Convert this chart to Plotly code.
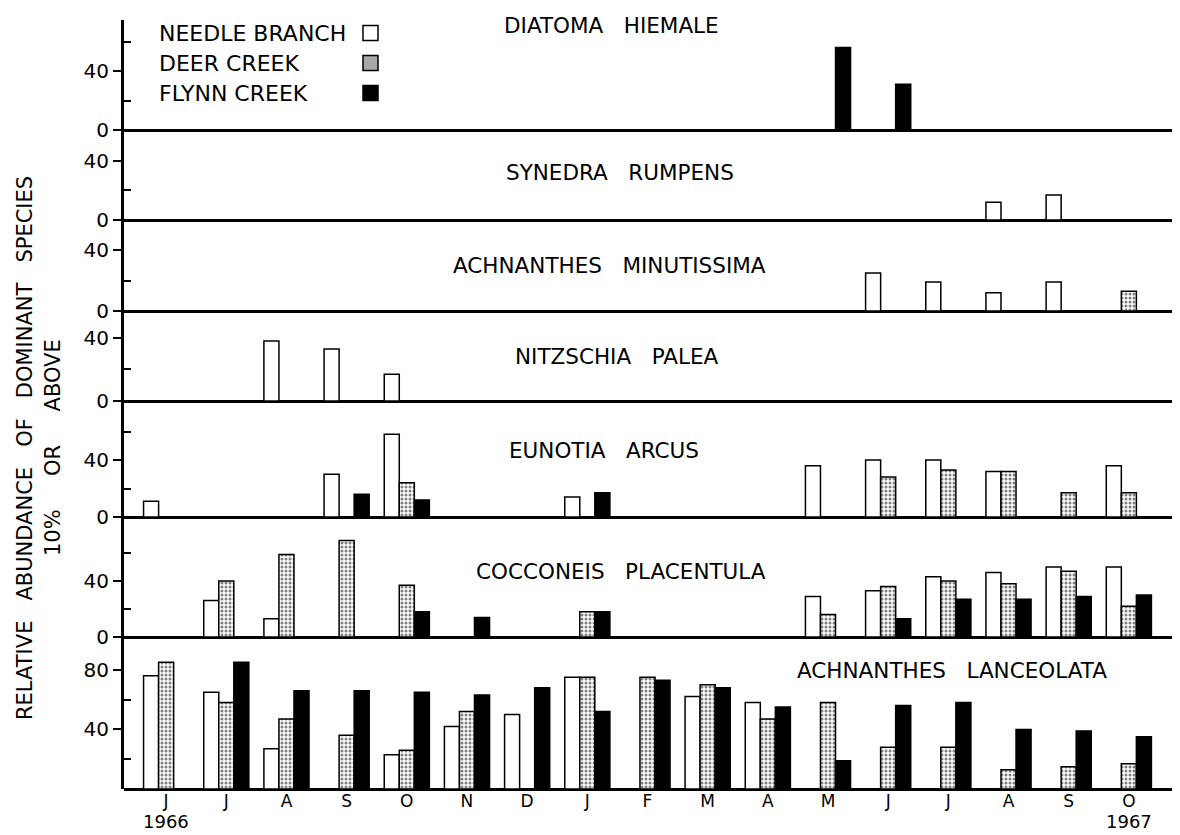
import plotly.graph_objects as go
from plotly.subplots import make_subplots

N = None
months = ["J", "J", "A", "S", "O", "N", "D", "J", "F", "M", "A", "M", "J", "J", "A", "S", "O"]
month_idx = list(range(len(months)))
years = ["1966", "1967"]
streams = ["NEEDLE BRANCH", "DEER CREEK", "FLYNN CREEK"]
species = ["DIATOMA   HIEMALE", "SYNEDRA   RUMPENS", "ACHNANTHES   MINUTISSIMA",
           "NITZSCHIA   PALEA", "EUNOTIA   ARCUS", "COCCONEIS   PLACENTULA",
           "ACHNANTHES   LANCEOLATA"]

# values: % relative abundance, one entry per month Jun 1966 .. Oct 1967
diatoma_nb = [N, N, N, N, N, N, N, N, N, N, N, N, N, N, N, N, N]
diatoma_dc = [N, N, N, N, N, N, N, N, N, N, N, N, N, N, N, N, N]
diatoma_fc = [N, N, N, N, N, N, N, N, N, N, N, 56, 31, N, N, N, N]

synedra_nb = [N, N, N, N, N, N, N, N, N, N, N, N, N, N, 12, 17, N]
synedra_dc = [N, N, N, N, N, N, N, N, N, N, N, N, N, N, N, N, N]
synedra_fc = [N, N, N, N, N, N, N, N, N, N, N, N, N, N, N, N, N]

minut_nb = [N, N, N, N, N, N, N, N, N, N, N, N, 25, 19, 12, 19, N]
minut_dc = [N, N, N, N, N, N, N, N, N, N, N, N, N, N, N, N, 13]
minut_fc = [N, N, N, N, N, N, N, N, N, N, N, N, N, N, N, N, N]

nitz_nb = [N, N, 38, 33, 17, N, N, N, N, N, N, N, N, N, N, N, N]
nitz_dc = [N, N, N, N, N, N, N, N, N, N, N, N, N, N, N, N, N]
nitz_fc = [N, N, N, N, N, N, N, N, N, N, N, N, N, N, N, N, N]

eunotia_nb = [11, N, N, 30, 58, N, N, 14, N, N, N, 36, 40, 40, 32, N, 36]
eunotia_dc = [N, N, N, N, 24, N, N, N, N, N, N, N, 28, 33, 32, 17, 17]
eunotia_fc = [N, N, N, 16, 12, N, N, 17, N, N, N, N, N, N, N, N, N]

cocco_nb = [N, 26, 13, N, N, N, N, N, N, N, N, 29, 33, 43, 46, 50, 50]
cocco_dc = [N, 40, 59, 69, 37, N, N, 18, N, N, N, 16, 36, 40, 38, 47, 22]
cocco_fc = [N, N, N, N, 18, 14, N, 18, N, N, N, N, 13, 27, 27, 29, 30]

lanc_nb = [76, 65, 27, N, 23, 42, 50, 75, N, 62, 58, N, N, N, N, N, N]
lanc_dc = [85, 58, 47, 36, 26, 52, N, 75, 75, 70, 47, 58, 28, 28, 13, 15, 17]
lanc_fc = [N, 85, 66, 66, 65, 63, 68, 52, 73, 68, 55, 19, 56, 58, 40, 39, 35]

panels = [
    (diatoma_nb, diatoma_dc, diatoma_fc),
    (synedra_nb, synedra_dc, synedra_fc),
    (minut_nb, minut_dc, minut_fc),
    (nitz_nb, nitz_dc, nitz_fc),
    (eunotia_nb, eunotia_dc, eunotia_fc),
    (cocco_nb, cocco_dc, cocco_fc),
    (lanc_nb, lanc_dc, lanc_fc),
]

# ---- layout geometry (pixels) ----
W, H = 1180, 835
PL, PR, PT, PB = 116, 1175, 12, 781
row_px = [110, 90, 91, 90, 116, 120, 152]
y_top = [74.6, 61, 59.7, 57.1, 81.4, 85.7, 102]
title_pos = [(603, 18), (612, 165), (601, 257), (609, 348), (596, 442), (613, 563), (944, 662)]

def px_x(px):
    return (px - PL) / (PR - PL)

def px_y(py):
    return (PB - py) / (PB - PT)

FONT = "DejaVu Sans"
INK = "black"

fig = make_subplots(rows=7, cols=1, shared_xaxes=True, vertical_spacing=0,
                    row_heights=row_px)

styles = [
    dict(color="white", line=dict(color=INK, width=1.5)),
    dict(color="white", line=dict(color=INK, width=1.5),
         pattern=dict(shape=".", fgcolor=INK, bgcolor="white", size=4, solidity=0.45)),
    dict(color=INK, line=dict(color=INK, width=1.5)),
]

for r, series in enumerate(panels, start=1):
    for s, vals in enumerate(series):
        fig.add_trace(go.Bar(x=month_idx, y=vals, name=streams[s], marker=styles[s],
                             showlegend=False, legendgroup=streams[s]),
                      row=r, col=1)
    if r < 7:
        tv, tt = [0, 40], ["0", "40"]
        minor = [v for v in (20, 60) if v < y_top[r - 1] - 3]
    else:
        tv, tt = [40, 80], ["40", "80"]
        minor = [20, 60]
    fig.update_yaxes(row=r, col=1, range=[0, y_top[r - 1]], tickvals=tv, ticktext=tt,
                     ticks="outside", ticklen=8, tickwidth=2, tickcolor=INK,
                     showline=True, linewidth=3, linecolor=INK,
                     zeroline=True, zerolinewidth=3, zerolinecolor=INK,
                     showgrid=False, fixedrange=True,
                     tickfont=dict(family=FONT, size=20, color=INK),
                     minor=dict(tickvals=minor, ticks="inside", ticklen=7, tickwidth=2,
                                tickcolor=INK, showgrid=False))
    fig.update_xaxes(row=r, col=1, range=[-0.7, 16.9], showgrid=False, zeroline=False,
                     showline=False, ticks="", fixedrange=True)

fig.update_xaxes(row=7, col=1, tickvals=month_idx, ticktext=months,
                 tickfont=dict(family=FONT, size=17, color=INK))

annotations = []
for name, (cx, cy) in zip(species, title_pos):
    annotations.append(dict(text=name.replace(" ", "\u00a0"), x=px_x(cx), y=px_y(cy),
                            xref="paper", yref="paper", showarrow=False,
                            xanchor="center", yanchor="middle",
                            font=dict(family=FONT, size=21.5, color=INK)))

# years under first and last month
for yr, mi in zip(years, [0, len(months) - 1]):
    annotations.append(dict(text=yr, x=mi, xref="x7", y=px_y(813), yref="paper",
                            showarrow=False, xanchor="center", yanchor="middle",
                            font=dict(family=FONT, size=18, color=INK)))

# y-axis title (two rotated lines)
annotations.append(dict(text="RELATIVE   ABUNDANCE   OF   DOMINANT   SPECIES".replace(" ", "\u00a0"),
                        x=px_x(17), y=px_y(440), xref="paper", yref="paper", textangle=-90,
                        showarrow=False, xanchor="center", yanchor="middle",
                        font=dict(family=FONT, size=21, color=INK)))
annotations.append(dict(text="10%     OR     ABOVE".replace(" ", "\u00a0"),
                        x=px_x(45), y=px_y(440), xref="paper", yref="paper", textangle=-90,
                        showarrow=False, xanchor="center", yanchor="middle",
                        font=dict(family=FONT, size=21, color=INK)))

# legend (text then swatch)
legend_rows = [25, 55, 85]
swatch_fill = ["white", "#a8a8a8", INK]
shapes = []
for name, ry, fill in zip(streams, legend_rows, swatch_fill):
    annotations.append(dict(text=name, x=px_x(149), y=px_y(ry), xref="paper", yref="paper",
                            showarrow=False, xanchor="left", yanchor="middle",
                            font=dict(family=FONT, size=22, color=INK)))
    shapes.append(dict(type="rect", xref="paper", yref="paper",
                       x0=px_x(355), x1=px_x(370), y0=px_y(ry + 7.5), y1=px_y(ry - 7.5),
                       fillcolor=fill, line=dict(color=INK, width=1.5)))

fig.update_layout(
    width=W, height=H,
    margin=dict(l=PL, r=W - PR, t=PT, b=H - PB),
    paper_bgcolor="white", plot_bgcolor="white",
    barmode="group", bargap=0.25, bargroupgap=0,
    annotations=annotations, shapes=shapes,
    font=dict(family=FONT, color=INK),
    showlegend=False,
)

fig.write_html("out.html")
